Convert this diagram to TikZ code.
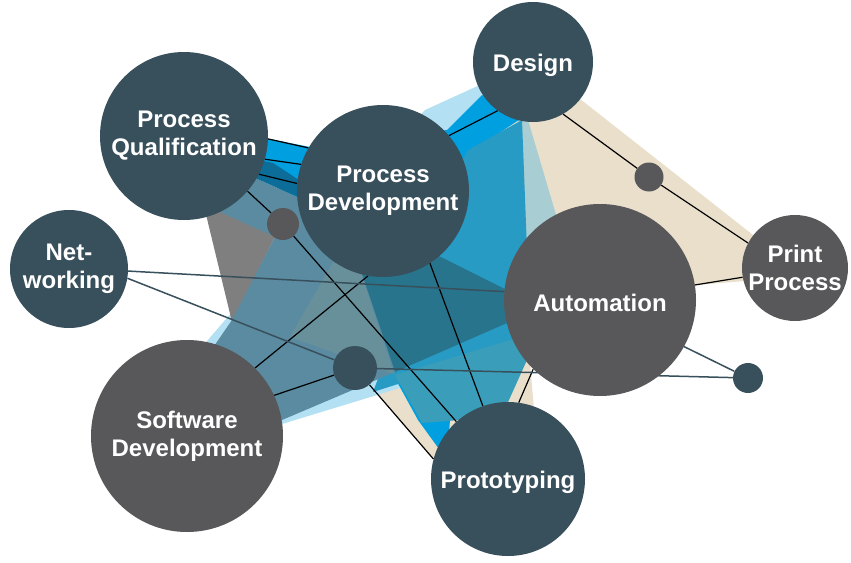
\documentclass[tikz,border=0pt]{standalone}
\usepackage{fontspec}
\setmainfont{Liberation Sans}
\usepackage{tikz}

\definecolor{slate}{HTML}{38505C}
\definecolor{ash}{HTML}{58585A}
\definecolor{sand}{HTML}{E9DFCB}
\definecolor{mist}{HTML}{A8CDD3}
\definecolor{sky}{HTML}{B3E1F3}
\definecolor{vivid}{HTML}{009FE0}
\definecolor{midblue}{HTML}{289BC4}
\definecolor{softblue}{HTML}{3A9EBA}
\definecolor{deepteal}{HTML}{28748C}
\definecolor{bandblue}{HTML}{0C6D98}
\definecolor{steel}{HTML}{5A8BA1}
\definecolor{stone}{HTML}{7F7F7F}
\definecolor{sage}{HTML}{68909A}

\pgfdeclarelayer{shade}
\pgfdeclarelayer{wires}
\pgfsetlayers{shade,wires,main}

\begin{document}
\begin{tikzpicture}[
    x=1pt,
    y=-1pt,
    bubble/.style={circle, inner sep=0pt, text=white, align=center, font=\bfseries\fontsize{24}{28}\selectfont, execute at begin node=\rule{0pt}{19pt}},
    solo/.style={execute at begin node=\rule{0pt}{24pt}},
    darkbubble/.style={bubble, fill=slate},
    greybubble/.style={bubble, fill=ash},
    joint/.style={circle, inner sep=0pt},
    line/.style={black, line width=1.2pt},
    thread/.style={slate, line width=1.5pt}
]
\useasboundingbox (0,0) rectangle (851,562);

\begin{pgfonlayer}{shade}
\fill[sand] (533,62) -- (795,268) -- (745,281) -- (697,285) -- (530,362) -- (534,410) -- (508,478) -- (433,458) -- (365,380) -- (400,300) -- (470,150) -- cycle;
\fill[mist] (518,120) -- (528,120) -- (562,235) -- (526,260) -- cycle;
\fill[sky] (195,355) -- (238,305) -- (425,110) -- (482,84) -- (505,95) -- (470,150) -- (400,388) -- (282,424) -- cycle;
\fill[vivid] (250,135) -- (310,147) -- (447,130) -- (482,95) -- (522,118) -- (470,152) -- (447,460) -- (418,420) -- (300,205) -- (258,172) -- cycle;
\fill[midblue] (468,150) -- (522,120) -- (527,250) -- (520,345) -- (373,392) -- (400,320) -- (440,200) -- cycle;
\fill[softblue] (395,375) -- (517,338) -- (527,360) -- (500,420) -- (460,420) -- (422,423) -- cycle;
\fill[deepteal] (358,265) -- (437,255) -- (507,290) -- (507,323) -- (395,372) -- cycle;
\fill[stone] (188,140) -- (232,322) -- (275,237) -- (245,185) -- cycle;
\fill[steel] (205,205) -- (255,178) -- (305,200) -- (360,268) -- (395,372) -- (282,420) -- (210,352) -- (232,320) -- (275,237) -- cycle;
\fill[sage] (333,262) -- (360,270) -- (394,374) -- (290,337) -- cycle;
\fill[bandblue] (250,158) -- (273,163) -- (305,184) -- (305,200) -- (255,178) -- cycle;
\end{pgfonlayer}

\node[darkbubble, minimum size=168pt] (qual) at (184,136) {Process\\Qualification};
\node[darkbubble, solo, minimum size=120pt] (design) at (533,62) {Design};
\node[darkbubble, minimum size=172pt] (devel) at (383,191) {Process\\Development};
\node[darkbubble, minimum size=118pt] (net) at (69,269) {Net-\\working};
\node[greybubble, solo, minimum size=192pt] (auto) at (600,300) {Automation};
\node[greybubble, minimum size=106pt] (print) at (795,268) {Print\\Process};
\node[greybubble, minimum size=192pt] (soft) at (187,436) {Software\\Development};
\node[darkbubble, solo, minimum size=154pt] (proto) at (508,479) {Prototyping};
\node[joint, fill=ash, minimum size=32pt] (jointq) at (283,224) {};
\node[joint, fill=slate, minimum size=44pt] (jointd) at (355,368) {};
\node[joint, fill=ash, minimum size=29pt] (jointp) at (649,177) {};
\node[joint, fill=slate, minimum size=30pt] (jointa) at (748,378) {};

\begin{pgfonlayer}{wires}
\draw[line] (qual.-2) -- (devel.150);
\draw[line] (qual.-16) -- (devel.162);
\draw[line] (qual.-27) -- (devel.175);
\draw[line] (devel.40) -- (design.234);
\draw[line] (design.-60) -- (jointp) -- (print.152);
\draw[line] (auto.9) -- (print.190);
\draw[line] (qual.-41) -- (jointq) -- (proto.132);
\draw[line] (soft.45) -- (devel.-100);
\draw[line] (soft.25) -- (jointd) -- (proto.165);
\draw[line] (devel.-57) -- (proto.109);
\draw[line] (auto.-134) -- (proto.82);
\draw[thread] (net.-2) -- (auto.175);
\draw[thread] (net.-9) -- (jointd);
\draw[thread] (jointd) -- (jointa);
\draw[thread] (auto.-29) -- (jointa);
\end{pgfonlayer}
\end{tikzpicture}
\end{document}
